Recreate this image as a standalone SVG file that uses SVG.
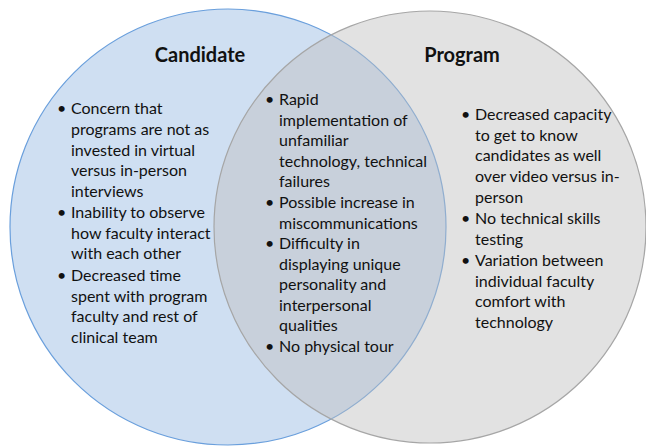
<svg xmlns="http://www.w3.org/2000/svg" width="646" height="446" viewBox="0 0 646 446">
<style>
.t{font-family:Lato,"Liberation Sans",sans-serif;font-size:16px;fill:#111}
.h{font-family:Lato,"Liberation Sans",sans-serif;font-size:20px;font-weight:bold;fill:#111;text-anchor:middle}
</style>
<rect width="646" height="446" fill="#fff"/>
<g id="candidate">
<circle cx="228" cy="227" r="218" fill="#cfdff2" stroke="#6a9fdc" stroke-width="1.2"/>
</g>
<g id="program">
<circle cx="430" cy="227" r="216" fill="#bebebe" fill-opacity="0.45" stroke="#a6a6a6" stroke-width="1.2"/>
</g>
<g id="candidate-text">
<text class="h" x="200" y="62">Candidate</text>
<g class="t">
<text x="57" y="114">•</text>
<text x="71" y="114">Concern that</text>
<text x="71" y="135">programs are not as</text>
<text x="71" y="155.5">invested in virtual</text>
<text x="71" y="176">versus in-person</text>
<text x="71" y="197">interviews</text>
<text x="57" y="218">•</text>
<text x="71" y="218">Inability to observe</text>
<text x="71" y="238.5">how faculty interact</text>
<text x="71" y="259">with each other</text>
<text x="57" y="281">•</text>
<text x="71" y="281">Decreased time</text>
<text x="71" y="301.5">spent with program</text>
<text x="71" y="322">faculty and rest of</text>
<text x="71" y="343">clinical team</text>
</g>
</g>
<g id="shared-text">
<g class="t">
<text x="265" y="105">•</text>
<text x="279" y="105">Rapid</text>
<text x="279" y="126">implementation of</text>
<text x="279" y="146">unfamiliar</text>
<text x="279" y="166.5">technology, technical</text>
<text x="279" y="187">failures</text>
<text x="265" y="208">•</text>
<text x="279" y="208">Possible increase in</text>
<text x="279" y="228.5">miscommunications</text>
<text x="265" y="249">•</text>
<text x="279" y="249">Difficulty in</text>
<text x="279" y="269.5">displaying unique</text>
<text x="279" y="290">personality and</text>
<text x="279" y="310.5">interpersonal</text>
<text x="279" y="331">qualities</text>
<text x="265" y="352">•</text>
<text x="279" y="352">No physical tour</text>
</g>
</g>
<g id="program-text">
<text class="h" x="462" y="62">Program</text>
<g class="t">
<text x="461" y="120">•</text>
<text x="475" y="120">Decreased capacity</text>
<text x="475" y="140.5">to get to know</text>
<text x="475" y="161">candidates as well</text>
<text x="475" y="182">over video versus in-</text>
<text x="475" y="202.5">person</text>
<text x="461" y="224">•</text>
<text x="475" y="224">No technical skills</text>
<text x="475" y="244.5">testing</text>
<text x="461" y="266">•</text>
<text x="475" y="266">Variation between</text>
<text x="475" y="286.5">individual faculty</text>
<text x="475" y="307">comfort with</text>
<text x="475" y="328">technology</text>
</g>
</g>
</svg>
